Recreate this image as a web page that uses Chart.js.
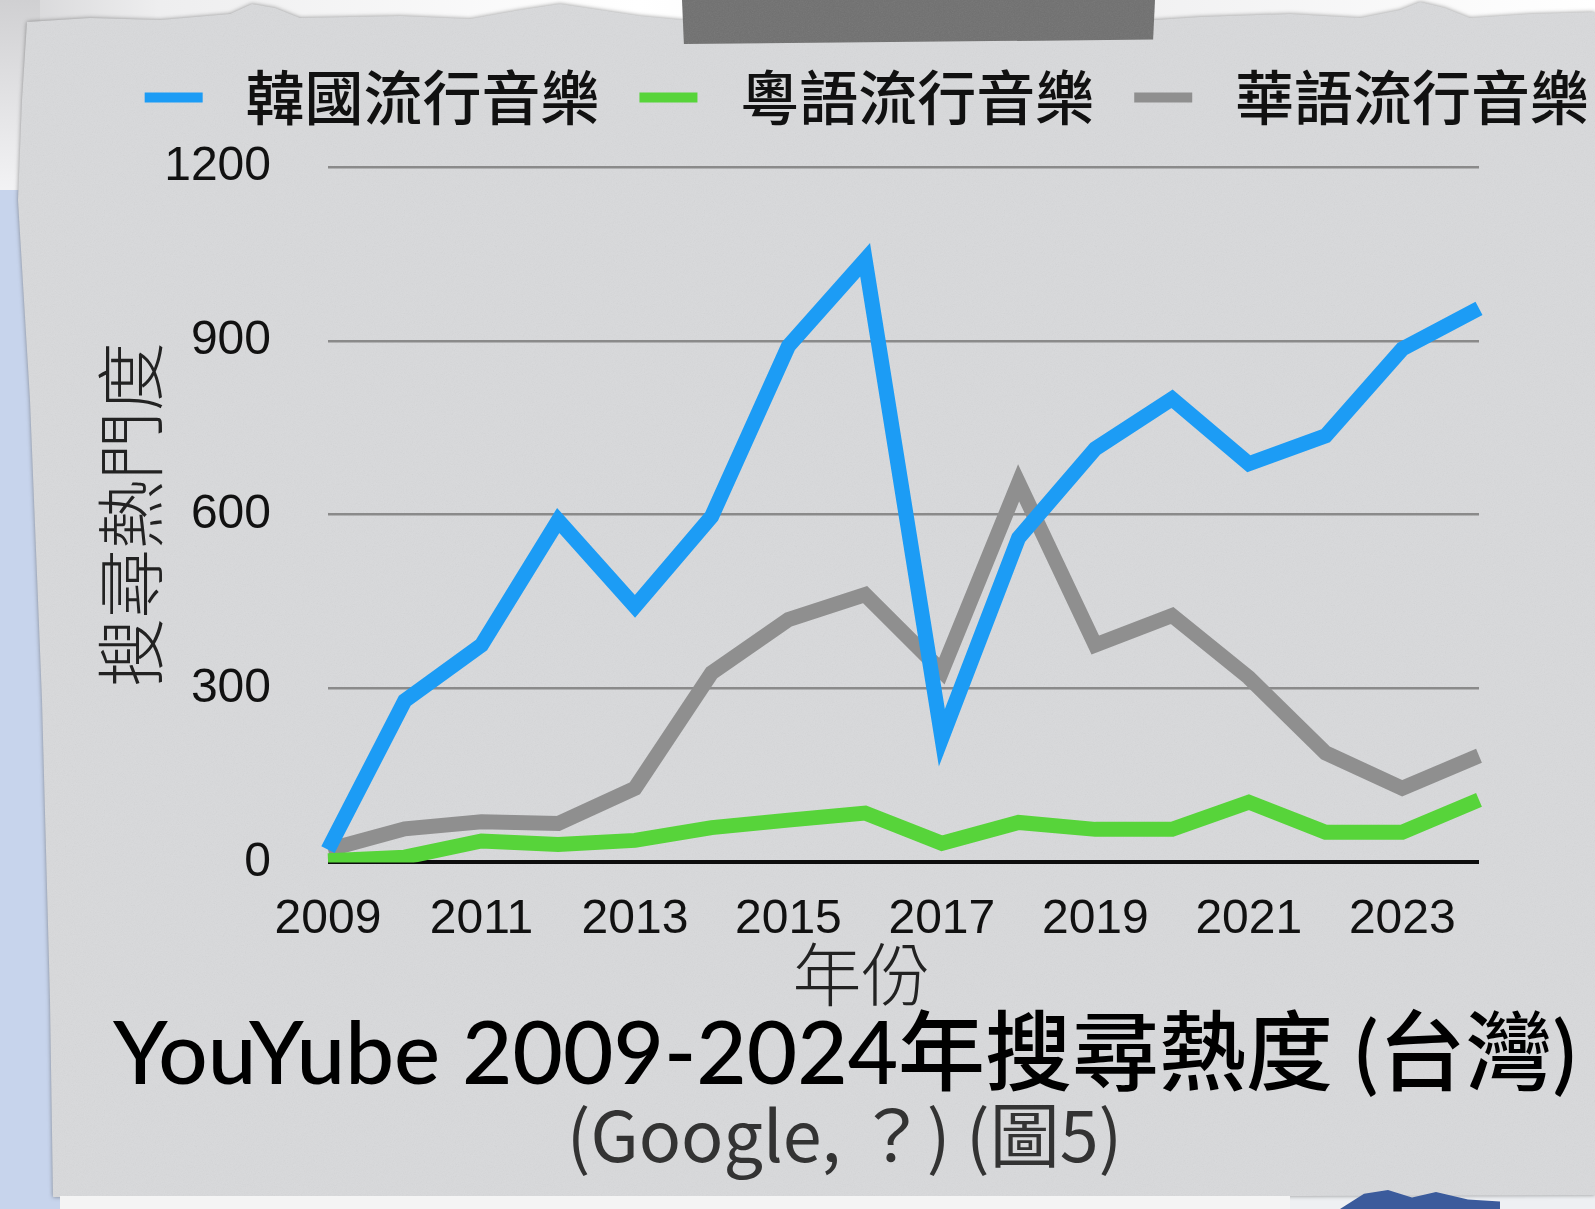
<!DOCTYPE html>
<html>
<head>
<meta charset="utf-8">
<script src="https://cdn.jsdelivr.net/npm/chart.js"></script>
<style>
  html, body { margin: 0; padding: 0; }
  body { width: 1595px; height: 1209px; overflow: hidden; position: relative; background: #eef0f3; }
  .abs { position: absolute; }
  #topfog { left: 0; top: 0; width: 1595px; height: 40px; background: linear-gradient(90deg, #d4d4d6 0%, #eeeeef 10%, #ffffff 40%, #f0f0f1 70%, #ffffff 100%); }
  #leftfog { left: 0; top: 0; width: 40px; height: 200px; background: linear-gradient(180deg, #d0d0d2 0%, #e6e6e8 60%, #f4f4f6 100%); }
  #bluestrip { left: 0; top: 190px; width: 60px; height: 1019px; background: #c7d4ec; }
  #paperwrap { left: 0; top: 0; width: 1595px; height: 1209px; filter: drop-shadow(0 0 2px rgba(60,60,60,0.55)); }
  #paper { left: 0; top: 0; width: 1595px; height: 1209px;
    background-color: #d8d9db;
    background-image: url("data:image/svg+xml;utf8,<svg xmlns='http://www.w3.org/2000/svg' width='300' height='300'><filter id='n'><feTurbulence type='fractalNoise' baseFrequency='0.9' numOctaves='3' stitchTiles='stitch'/><feColorMatrix type='saturate' values='0'/></filter><rect width='300' height='300' filter='url(%23n)' opacity='0.10'/></svg>");
    clip-path: polygon(27px 22px, 90px 18px, 160px 20px, 230px 14px, 252px 4px, 275px 8px, 300px 18px, 400px 16px, 470px 19px, 520px 10px, 560px 4px, 600px 10px, 640px 16px, 682px 20px, 1155px 20px, 1200px 17px, 1290px 14px, 1360px 18px, 1400px 10px, 1420px 2px, 1445px 8px, 1470px 18px, 1530px 14px, 1595px 12px, 1595px 1195px, 1300px 1196px, 900px 1197px, 500px 1196px, 53px 1197px, 50px 1000px, 42px 700px, 30px 400px, 18px 200px, 22px 100px); }
  #tape { left: 682px; top: 0; width: 473px; height: 44px; background-color: #6f6f6f;
    background-image: url("data:image/svg+xml;utf8,<svg xmlns='http://www.w3.org/2000/svg' width='200' height='200'><filter id='n'><feTurbulence type='fractalNoise' baseFrequency='0.8' numOctaves='3' stitchTiles='stitch'/><feColorMatrix type='saturate' values='0'/></filter><rect width='200' height='200' filter='url(%23n)' opacity='0.12'/></svg>");
    clip-path: polygon(0 0, 100% 0, 99.6% 90%, 0.4% 100%); }
  #bottomwhite { left: 60px; top: 1196px; width: 1230px; height: 13px; background: #f4f4f4; }
  #bluebottom { left: 1340px; top: 1190px; width: 160px; height: 19px; background: #3b5b9c; clip-path: polygon(0 100%, 15% 20%, 30% 0, 45% 40%, 60% 10%, 80% 50%, 100% 60%, 100% 100%); }
  #wrap { position: absolute; left: 0; top: 0; width: 1595px; height: 1209px; }
</style>
</head>
<body>
<div id="topfog" class="abs"></div>
<div id="leftfog" class="abs"></div>
<div id="bluestrip" class="abs"></div>
<div id="paperwrap" class="abs"><div id="paper" class="abs"></div></div>
<div id="tape" class="abs"></div>
<div id="bottomwhite" class="abs"></div>
<div id="bluebottom" class="abs"></div>
<div id="wrap"><canvas id="c"></canvas></div>
<script>
// ---- data ----
const years = ['2009','2010','2011','2012','2013','2014','2015','2016','2017','2018','2019','2020','2021','2022','2023','2024'];
const xTickLabels = ['2009','2011','2013','2015','2017','2019','2021','2023'];
const yTickValues = [0, 300, 600, 900, 1200];
const seriesNames = ['韓國流行音樂', '粵語流行音樂', '華語流行音樂'];
const kpopValues = [22, 279, 375, 590, 442, 597, 891, 1040, 215, 560, 714, 800, 688, 736, 886, 956];
const cantopopValues = [3, 9, 37, 31, 38, 60, 73, 85, 33, 69, 57, 57, 104, 52, 52, 108];
const mandopopValues = [22, 58, 70, 67, 128, 327, 419, 462, 330, 655, 375, 426, 319, 189, 128, 184];
const xTitle = '年份';
const yTitle = '搜尋熱門度';
const mainTitle = 'YouYube 2009-2024年搜尋熱度 (台灣)';
const sourceLine = '(Google, ？) (圖5)';

const CJK = "'Noto Sans CJK TC', 'Noto Sans CJK SC', sans-serif";

function lineDs(label, data, color) {
  return {
    label, data,
    borderColor: color, backgroundColor: color,
    borderWidth: 15, pointRadius: 0, pointHoverRadius: 0,
    tension: 0, borderJoinStyle: 'miter', borderCapStyle: 'butt', fill: false
  };
}

new Chart(document.getElementById('c'), {
  type: 'line',
  data: {
    labels: years,
    datasets: [
      lineDs(seriesNames[0], kpopValues, '#1c9cf5'),
      lineDs(seriesNames[1], cantopopValues, '#57d43a'),
      lineDs(seriesNames[2], mandopopValues, '#8f8f8f')
    ]
  },
  options: {
    responsive: true,
    maintainAspectRatio: false,
    animation: false,
    devicePixelRatio: 1,
    layout: { padding: { top: 28, left: 60, right: -34, bottom: 39 } },
    plugins: {
      tooltip: { enabled: false },
      legend: {
        position: 'top',
        align: 'end',
        labels: {
          boxWidth: 58, boxHeight: 10, padding: 40,
          color: '#111',
          font: { family: CJK, size: 59, weight: '500', lineHeight: 1 },
          generateLabels(chart) {
            return chart.data.datasets.map((ds, i) => ({
              text: ' ' + ds.label,
              fillStyle: ds.borderColor,
              strokeStyle: 'rgba(0,0,0,0)',
              lineWidth: 0,
              hidden: !chart.isDatasetVisible(i),
              datasetIndex: i,
              fontColor: '#111'
            }));
          }
        }
      },
      subtitle: {
        display: true,
        position: 'bottom',
        text: mainTitle,
        color: '#000',
        font: { family: "Lato, " + CJK, size: 87, weight: '500', lineHeight: 1 },
        padding: { top: 6, bottom: 1 }
      },
      title: {
        display: true,
        position: 'bottom',
        text: sourceLine,
        color: '#333',
        font: { family: "'Liberation Sans Narrow', " + CJK, size: 70, weight: 'normal', lineHeight: 1 },
        padding: { top: 0, bottom: 0 }
      }
    },
    scales: {
      x: {
        type: 'category',
        offset: false,
        grid: { display: false, drawTicks: false },
        border: { display: false },
        ticks: {
          autoSkip: false, maxRotation: 0, minRotation: 0, padding: 29,
          color: '#111',
          font: { family: "'Liberation Sans', Arial, sans-serif", size: 48, lineHeight: 1.2 },
          callback: function (value) {
            const lab = this.getLabelForValue(value);
            return xTickLabels.includes(lab) ? lab : '';
          }
        },
        title: {
          display: true, text: xTitle + '\u3000 ', color: '#222',
          font: { family: CJK, size: 69, weight: '300', lineHeight: 1 },
          padding: { top: -38, bottom: -3 }
        }
      },
      y: {
        type: 'linear',
        position: 'left',
        min: 0, max: 1200,
        afterBuildTicks(scale) { scale.ticks = yTickValues.map(v => ({ value: v })); },
        afterFit(scale) { scale.width = 268; },
        grid: {
          drawTicks: false,
          color: (ctx) => (ctx.tick && ctx.tick.value === 0) ? '#0d0d0d' : '#8a8a8a',
          lineWidth: (ctx) => (ctx.tick && ctx.tick.value === 0) ? 4 : 2.5
        },
        border: { display: false },
        ticks: {
          padding: 57,
          color: '#111',
          font: { family: "'Liberation Sans', Arial, sans-serif", size: 48, lineHeight: 1.2 },
          callback: (v) => String(v)
        },
        title: {
          display: true, text: yTitle, color: '#222',
          font: { family: CJK, size: 69, weight: '300', lineHeight: 1 },
          padding: { top: 36, bottom: 0 }
        }
      },
      y2: {
        type: 'linear', position: 'right', display: true,
        grid: { display: false, drawTicks: false }, border: { display: false },
        ticks: { display: false },
        afterFit(scale) { scale.width = 150; }
      },
      x2: {
        type: 'linear', position: 'top', display: true,
        grid: { display: false, drawTicks: false }, border: { display: false },
        ticks: { display: false },
        afterFit(scale) { scale.height = 30; }
      }
    }
  }
});
</script>
</body>
</html>
